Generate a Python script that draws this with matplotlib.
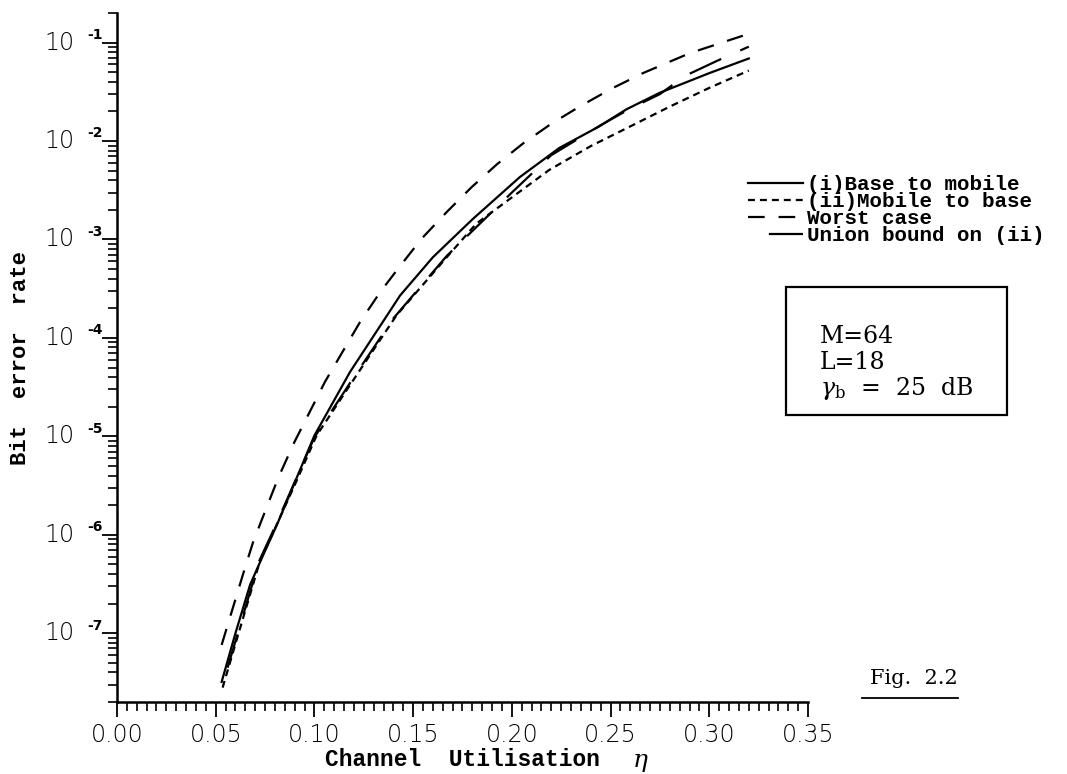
import matplotlib
matplotlib.use("Agg")
import matplotlib.pyplot as plt
import matplotlib.ticker as mticker
from matplotlib.lines import Line2D
from matplotlib.patches import Rectangle

# ---------------- data ----------------
eta_base = [0.053, 0.060, 0.0674, 0.074, 0.081, 0.0944, 0.100, 0.118, 0.1434,
            0.160, 0.180, 0.204, 0.224, 0.244, 0.258, 0.275, 0.300, 0.320]
ber_base = [3.2e-8, 1.0e-7, 3.1e-7, 6.2e-7, 1.26e-6, 5.5e-6, 1.02e-5, 4.5e-5, 2.7e-4,
            6.6e-4, 1.6e-3, 4.3e-3, 8.5e-3, 1.4e-2, 2.1e-2, 3.1e-2, 4.9e-2, 6.9e-2]

eta_mobile = [0.0535, 0.060, 0.0724, 0.0792, 0.090, 0.1011, 0.1214, 0.1416, 0.167,
              0.182, 0.2008, 0.219, 0.240, 0.260, 0.280, 0.300, 0.320]
ber_mobile = [2.8e-8, 7.8e-8, 5.4e-7, 1.07e-6, 3.2e-6, 1.02e-5, 4.2e-5, 1.7e-4, 6.6e-4,
              1.45e-3, 2.75e-3, 5.1e-3, 8.9e-3, 1.41e-2, 2.24e-2, 3.47e-2, 5.2e-2]

eta_worst = [0.053, 0.0648, 0.069, 0.0758, 0.0817, 0.0898, 0.1054, 0.1231, 0.1332,
             0.1425, 0.1543, 0.167, 0.1796, 0.1924, 0.2058, 0.2202, 0.2343, 0.2504,
             0.2664, 0.290, 0.320]
ber_worst = [7.6e-8, 4.6e-7, 8.5e-7, 1.9e-6, 3.8e-6, 8.7e-6, 3.6e-5, 1.45e-4, 2.9e-4,
             5.1e-4, 1.02e-3, 1.9e-3, 3.4e-3, 5.8e-3, 9.5e-3, 1.51e-2, 2.24e-2, 3.4e-2,
             4.9e-2, 7.8e-2, 0.123]

eta_union = [0.053, 0.060, 0.072, 0.080, 0.100, 0.120, 0.140, 0.167, 0.200, 0.220,
             0.245, 0.260, 0.275, 0.2878, 0.3037, 0.320]
ber_union = [2.8e-8, 8.3e-8, 5.4e-7, 1.2e-6, 9.8e-6, 4.0e-5, 1.58e-4, 6.8e-4, 3.0e-3,
             7.2e-3, 1.45e-2, 2.14e-2, 3.0e-2, 4.6e-2, 6.5e-2, 9.1e-2]

series_labels = ["(i)Base to mobile", "(ii)Mobile to base", "Worst case",
                 "Union bound on (ii)"]

x_major = [0.00, 0.05, 0.10, 0.15, 0.20, 0.25, 0.30, 0.35]
y_exponents = [-7, -6, -5, -4, -3, -2, -1]

# ---------------- style ----------------
plt.rcParams["lines.scale_dashes"] = False
plt.rcParams["mathtext.fontset"] = "dejavuserif"

W, H = 1067, 774
fig = plt.figure(figsize=(W / 100, H / 100), dpi=100)
fig.patch.set_facecolor("white")

ax = fig.add_axes([117 / W, 1 - 702 / H, (808 - 117) / W, (702 - 13) / H])
ax.set_yscale("log")
ax.set_xlim(0, 0.35)
ax.set_ylim(2e-8, 2e-1)

lw = 1.6
ax.plot(eta_base, ber_base, color="black", lw=lw, linestyle="-", label=series_labels[0])
ax.plot(eta_mobile, ber_mobile, color="black", lw=lw, linestyle=(0, (5, 3.6)),
        label=series_labels[1])
ax.plot(eta_worst, ber_worst, color="black", lw=lw, linestyle=(0, (12, 10)),
        label=series_labels[2])
ax.plot(eta_union, ber_union, color="black", lw=lw, linestyle=(25, (25, 15)),
        label=series_labels[3])

for s in ["top", "right"]:
    ax.spines[s].set_visible(False)
for s in ["left", "bottom"]:
    ax.spines[s].set_linewidth(1.8)

ax.xaxis.set_major_locator(mticker.FixedLocator(x_major))
ax.xaxis.set_minor_locator(mticker.MultipleLocator(0.005))
ax.xaxis.set_major_formatter(mticker.FormatStrFormatter("%.2f"))
ax.yaxis.set_major_locator(mticker.FixedLocator([10.0 ** e for e in y_exponents]))
ax.yaxis.set_minor_locator(mticker.LogLocator(base=10, subs=range(2, 10), numticks=50))
ax.yaxis.set_major_formatter(mticker.NullFormatter())
ax.yaxis.set_minor_formatter(mticker.NullFormatter())

ax.tick_params(which="major", direction="out", length=11, width=1.3, pad=4)
ax.tick_params(which="minor", direction="out", length=6.5, width=1.2)
for lab in ax.get_xticklabels():
    lab.set_fontfamily("DejaVu Sans")
    lab.set_fontweight(200)
    lab.set_fontsize(17)

# y tick labels "10" with raised exponent
for e in y_exponents:
    ax.annotate("10", xy=(0, 10.0 ** e), xycoords=("axes fraction", "data"),
                xytext=(-42 * 0.72, 0), textcoords="offset points",
                ha="right", va="center", family="DejaVu Sans", weight=200, size=17)
    ax.annotate("-%d" % (-e), xy=(0, 10.0 ** e), xycoords=("axes fraction", "data"),
                xytext=(-30 * 0.72, 5.5), textcoords="offset points",
                ha="left", va="center", family="DejaVu Sans", weight="bold", size=10)

# axis labels
lab_font = dict(family="Liberation Mono", weight="bold")
fig.text(325 / W, 1 - 760 / H, "Channel  Utilisation  ", ha="left", va="center",
         size=16.5, **lab_font)
fig.text(640 / W, 1 - 762 / H, r"$\eta$", ha="center", va="center", size=18)
fig.text(21 / W, 1 - 358 / H, "Bit  error  rate", rotation=90, ha="center",
         va="center", size=16, **lab_font)

# legend
leg = ax.legend(loc="center left", bbox_to_anchor=(748 / W, 1 - 210 / H),
                bbox_transform=fig.transFigure, frameon=False, borderpad=0,
                borderaxespad=0, handlelength=2.64, handletextpad=0.2,
                labelspacing=-0.09,
                prop=dict(family="Liberation Mono", weight="bold", size=15))

# parameter box
fig.add_artist(Rectangle((786 / W, 1 - 415 / H), (1007 - 786) / W, (415 - 287) / H,
                         transform=fig.transFigure, fill=False, lw=1.6,
                         edgecolor="black"))
box_font = dict(family="DejaVu Serif", size=17)
fig.text(820 / W, 1 - 343 / H, "M=64", ha="left", va="baseline", **box_font)
fig.text(820 / W, 1 - 369 / H, "L=18", ha="left", va="baseline", **box_font)
fig.text(820 / W, 1 - 395 / H, r"$\gamma_\mathrm{b}$  =  25  dB", ha="left",
         va="baseline", **box_font)

# figure tag
fig.text(870 / W, 1 - 684 / H, "Fig.  2.2", ha="left", va="baseline",
         family="DejaVu Serif", size=15)
fig.add_artist(Line2D([862 / W, 958 / W], [1 - 698 / H, 1 - 698 / H],
                      transform=fig.transFigure, color="black", lw=1.3))

fig.savefig("out.png", dpi=100, facecolor="white")
